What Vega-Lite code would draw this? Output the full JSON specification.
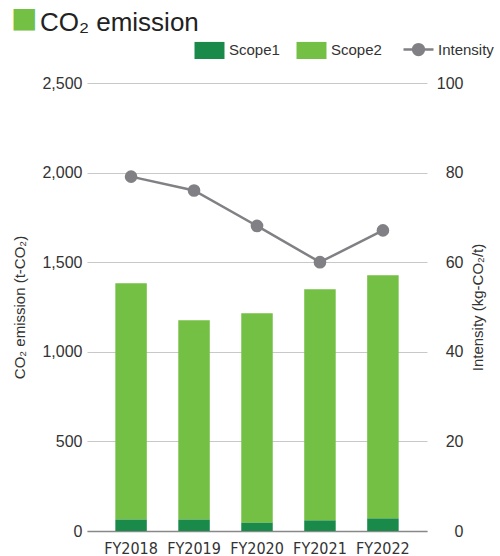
{
  "$schema": "https://vega.github.io/schema/vega-lite/v6.json",
  "width": 340,
  "height": 448,
  "autosize": {"type": "none"},
  "padding": {"left": 87, "top": 83, "right": 73, "bottom": 25},
  "background": "white",
  "config": {
    "font": "Liberation Sans",
    "view": {"stroke": null},
    "axis": {"labelColor": "#333333", "titleColor": "#333333", "labelFont": "Liberation Sans", "titleFont": "Liberation Sans", "titleFontWeight": "normal"}
  },
  "title": {
    "text": "■",
    "subtitle": "\u200b\u00a0\u00a0\u00a0\u00a0CO₂ emission",
    "anchor": "start",
    "frame": "group",
    "dx": -76,
    "color": "#74c044",
    "font": "DejaVu Sans",
    "fontSize": 28,
    "fontWeight": "normal",
    "subtitleFontSize": 26,
    "subtitleColor": "#222222",
    "subtitleFont": "Liberation Sans",
    "subtitlePadding": -23,
    "offset": 6
  },
  "data": {
    "values": [
      {"year": "FY2018", "series": "Scope1", "value": 65},
      {"year": "FY2019", "series": "Scope1", "value": 65},
      {"year": "FY2020", "series": "Scope1", "value": 48},
      {"year": "FY2021", "series": "Scope1", "value": 60},
      {"year": "FY2022", "series": "Scope1", "value": 71},
      {"year": "FY2018", "series": "Scope2", "value": 1317},
      {"year": "FY2019", "series": "Scope2", "value": 1111},
      {"year": "FY2020", "series": "Scope2", "value": 1167},
      {"year": "FY2021", "series": "Scope2", "value": 1289},
      {"year": "FY2022", "series": "Scope2", "value": 1356},
      {"year": "FY2018", "series": "Intensity", "value": 79.1},
      {"year": "FY2019", "series": "Intensity", "value": 76.0},
      {"year": "FY2020", "series": "Intensity", "value": 68.1},
      {"year": "FY2021", "series": "Intensity", "value": 60.0},
      {"year": "FY2022", "series": "Intensity", "value": 67.1}
    ]
  },
  "encoding": {
    "x": {
      "field": "year", "type": "nominal", "title": null,
      "scale": {"paddingInner": 0.5, "paddingOuter": 0.45},
      "axis": {"labelAngle": 0, "labelFontSize": 16, "labelFont": "Liberation Sans Narrow, DejaVu Sans Condensed, Roboto Condensed, Liberation Sans", "labelPadding": 9, "ticks": false, "domainColor": "#888888", "domainWidth": 1.5, "grid": false}
    },
    "color": {
      "field": "series", "type": "nominal",
      "scale": {"domain": ["Scope1", "Scope2", "Intensity"], "range": ["#1a8a4b", "#74c044", "#808085"]},
      "legend": {
        "orient": "none", "legendX": 115, "legendY": -41, "direction": "horizontal", "title": null,
        "symbolSize": 900, "labelFontSize": 15, "labelColor": "#333333", "labelOffset": 12, "columnPadding": 16,
        "labelFont": "Liberation Sans",
        "encode": {
          "symbols": {
            "update": {
              "shape": {"signal": "datum.value === 'Intensity' ? 'M-1,0H1M0.36,0A0.36,0.36 0 1 1 -0.36,0A0.36,0.36 0 1 1 0.36,0Z' : 'M-1,-0.57H1V0.57H-1Z'"},
              "strokeWidth": {"signal": "datum.value === 'Intensity' ? 2.5 : 0"},
              "fill": {"signal": "scale('color', datum.value)"},
              "stroke": {"signal": "scale('color', datum.value)"},
              "opacity": {"value": 1},
              "fillOpacity": {"value": 1},
              "strokeOpacity": {"value": 1}
            }
          }
        }
      }
    }
  },
  "layer": [
    {
      "transform": [{"filter": "datum.series !== 'Intensity'"}],
      "mark": {"type": "bar"},
      "encoding": {
        "y": {
          "field": "value", "type": "quantitative", "stack": "zero",
          "title": "CO₂ emission (t-CO₂)",
          "scale": {"domain": [0, 2500]},
          "axis": {"values": [0, 500, 1000, 1500, 2000, 2500], "format": ",.0f", "domain": false, "ticks": false, "grid": true, "gridColor": "#c8c8c8", "labelFontSize": 16, "labelPadding": 5, "titleFontSize": 15, "titlePadding": 14}
        },
        "order": {"field": "series", "sort": "ascending"}
      }
    },
    {
      "transform": [{"filter": "datum.series === 'Intensity'"}],
      "mark": {"type": "line", "strokeWidth": 2.5, "point": {"size": 160, "filled": true, "opacity": 1}},
      "encoding": {
        "y": {
          "field": "value", "type": "quantitative",
          "title": "Intensity (kg-CO₂/t)",
          "scale": {"domain": [0, 100]},
          "axis": {"orient": "right", "values": [0, 20, 40, 60, 80, 100], "domain": false, "ticks": false, "grid": false, "labelFontSize": 16, "labelAlign": "right", "labelPadding": 36, "titleFontSize": 15, "titleAngle": 270, "titlePadding": 22}
        }
      }
    }
  ],
  "resolve": {"scale": {"y": "independent"}}
}
